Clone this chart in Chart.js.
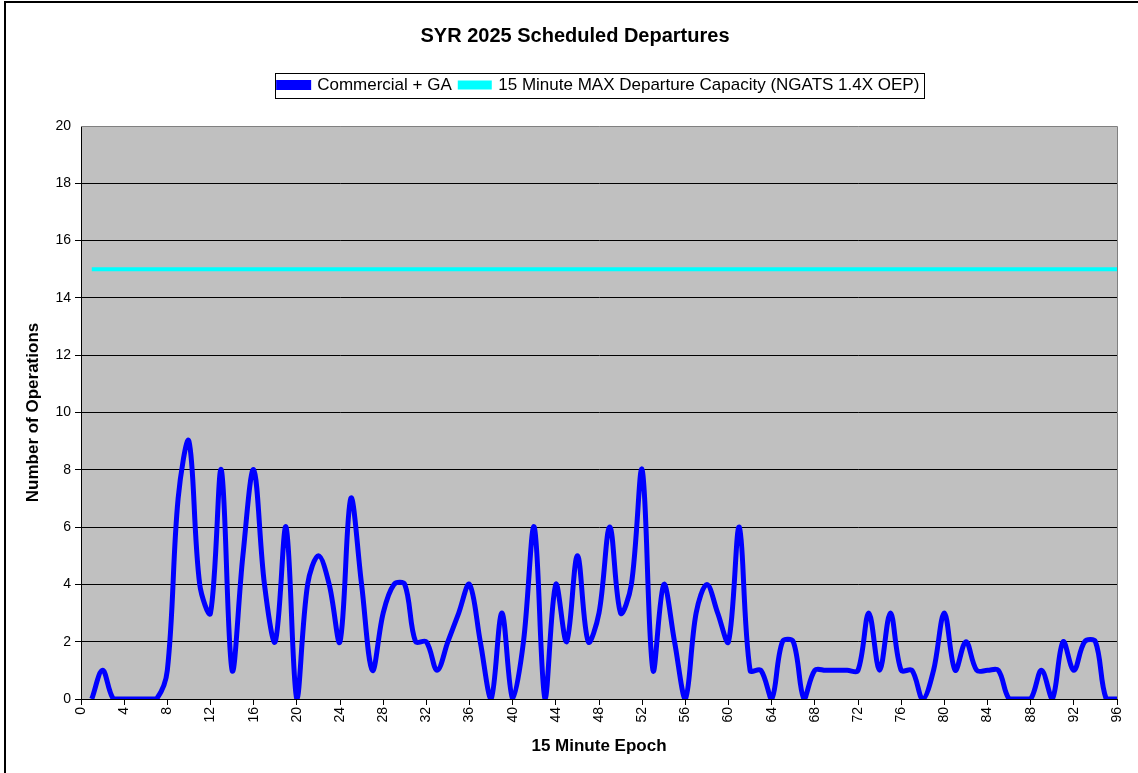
<!DOCTYPE html>
<html>
<head>
<meta charset="utf-8">
<script src="https://cdn.jsdelivr.net/npm/chart.js@4/dist/chart.umd.min.js"></script>
<style>
  html, body { margin: 0; padding: 0; background: #fff; }
  #wrap { width: 1138px; height: 773px; position: relative; }
</style>
</head>
<body>
<div id="wrap"><canvas id="depChart"></canvas></div>
<script>
// 15 minute epochs (x values)
const epochs = [1, 2, 3, 4, 5, 6, 7, 8, 9, 10, 11, 12, 13, 14, 15, 16, 17, 18, 19, 20,
  21, 22, 23, 24, 25, 26, 27, 28, 29, 30, 31, 32, 33, 34, 35, 36, 37, 38, 39, 40,
  41, 42, 43, 44, 45, 46, 47, 48, 49, 50, 51, 52, 53, 54, 55, 56, 57, 58, 59, 60,
  61, 62, 63, 64, 65, 66, 67, 68, 69, 70, 71, 72, 73, 74, 75, 76, 77, 78, 79, 80,
  81, 82, 83, 84, 85, 86, 87, 88, 89, 90, 91, 92, 93, 94, 95, 96];

// Commercial + GA departures per epoch
const departures = [0, 1, 0, 0, 0, 0, 0, 1, 7, 9, 4, 3, 8, 1, 5, 8, 4, 2, 6, 0,
  4, 5, 4, 2, 7, 4, 1, 3, 4, 4, 2, 2, 1, 2, 3, 4, 2, 0, 3, 0,
  2, 6, 0, 4, 2, 5, 2, 3, 6, 3, 4, 8, 1, 4, 2, 0, 3, 4, 3, 2,
  6, 1, 1, 0, 2, 2, 0, 1, 1, 1, 1, 1, 3, 1, 3, 1, 1, 0, 1, 3,
  1, 2, 1, 1, 1, 0, 0, 0, 1, 0, 2, 1, 2, 2, 0, 0];

// 15 minute max departure capacity
const capacity = [15, 15, 15, 15, 15, 15, 15, 15, 15, 15, 15, 15, 15, 15, 15, 15, 15, 15, 15, 15,
  15, 15, 15, 15, 15, 15, 15, 15, 15, 15, 15, 15, 15, 15, 15, 15, 15, 15, 15, 15,
  15, 15, 15, 15, 15, 15, 15, 15, 15, 15, 15, 15, 15, 15, 15, 15, 15, 15, 15, 15,
  15, 15, 15, 15, 15, 15, 15, 15, 15, 15, 15, 15, 15, 15, 15, 15, 15, 15, 15, 15,
  15, 15, 15, 15, 15, 15, 15, 15, 15, 15, 15, 15, 15, 15, 15, 15];

const seriesNames = ['Commercial + GA', '15 Minute MAX Departure Capacity (NGATS 1.4X OEP)'];

function toPoints(values) {
  return epochs.map((e, i) => ({x: e, y: values[i]}));
}

// gray plot area, plot frame, outer frame and legend box
const decorations = {
  id: 'decorations',
  beforeDraw(chart) {
    const {ctx, chartArea: a} = chart;
    ctx.save();
    ctx.fillStyle = '#C0C0C0';
    ctx.fillRect(a.left, a.top, a.right - a.left, a.bottom - a.top);
    ctx.restore();
  },
  afterDraw(chart) {
    const ctx = chart.ctx;
    const a = chart.chartArea;
    ctx.save();
    ctx.strokeStyle = '#808080';
    ctx.lineWidth = 1;
    ctx.beginPath();
    ctx.moveTo(a.left, a.top + 0.5);
    ctx.lineTo(a.right + 0.5, a.top + 0.5);
    ctx.lineTo(a.right + 0.5, a.bottom);
    ctx.stroke();

    ctx.strokeStyle = '#000';
    ctx.lineWidth = 2;
    ctx.strokeRect(5, 2, 1140, 780);

    const boxes = chart.legend.legendHitBoxes;
    if (boxes && boxes.length) {
      const left = Math.min(...boxes.map(b => b.left)) - 4;
      const right = Math.max(...boxes.map(b => b.left + b.width)) + 4;
      const top = Math.min(...boxes.map(b => b.top)) - 4;
      const bottom = Math.max(...boxes.map(b => b.top + b.height)) + 4;
      ctx.lineWidth = 1;
      ctx.strokeRect(Math.round(left) + 0.5, Math.round(top) + 0.5, Math.round(right - left), Math.round(bottom - top));
    }
    ctx.restore();
  }
};

Chart.defaults.font.family = 'Arial, "Liberation Sans", sans-serif';
Chart.defaults.color = '#000';

new Chart(document.getElementById('depChart'), {
  type: 'line',
  data: {
    datasets: [{
      label: seriesNames[0],
      data: toPoints(departures),
      borderColor: '#0000FF',
      backgroundColor: '#0000FF',
      borderWidth: 5,
      pointRadius: 0,
      tension: 0.35,
      fill: false
    }, {
      label: seriesNames[1],
      data: toPoints(capacity),
      borderColor: '#00FFFF',
      backgroundColor: '#00FFFF',
      borderWidth: 4,
      pointRadius: 0,
      tension: 0,
      fill: false
    }]
  },
  options: {
    responsive: true,
    maintainAspectRatio: false,
    animation: false,
    layout: {
      padding: {left: 33, right: 21, top: 0, bottom: 0}
    },
    plugins: {
      title: {
        display: true,
        text: 'SYR 2025 Scheduled Departures',
        font: {size: 20, weight: 'bold'},
        color: '#000',
        padding: {top: 24, bottom: 20.5}
      },
      // empty spacer between legend and plot
      subtitle: {
        display: true,
        text: '',
        weight: 500,
        font: {size: 15, lineHeight: 1.5},
        padding: 0
      },
      legend: {
        display: true,
        fullSize: false,
        labels: {
          boxWidth: 30,
          boxHeight: 5,
          font: {size: 17},
          color: '#000',
          padding: 8
        }
      },
      tooltip: {enabled: false}
    },
    scales: {
      x: {
        type: 'linear',
        min: 0,
        max: 96,
        afterFit(scale) { scale.height = 74; },
        ticks: {
          stepSize: 4,
          autoSkip: false,
          minRotation: 90,
          maxRotation: 90,
          font: {size: 14},
          color: '#000',
          padding: 2
        },
        grid: {
          drawOnChartArea: false,
          drawTicks: true,
          tickLength: 6,
          color: '#000'
        },
        border: {color: '#000', width: 1},
        title: {
          display: true,
          text: '15 Minute Epoch',
          font: {size: 17, weight: 'bold'},
          color: '#000',
          padding: {top: 4, bottom: 16.8}
        }
      },
      y: {
        min: 0,
        max: 20,
        afterFit(scale) { scale.width = 48; },
        ticks: {
          stepSize: 2,
          font: {size: 14},
          color: '#000',
          padding: 4
        },
        grid: {
          drawTicks: true,
          tickLength: 6,
          color: ctx => (ctx.tick && ctx.tick.value === 20) ? 'rgba(0,0,0,0)' : '#000',
          lineWidth: 1
        },
        border: {color: '#000', width: 1},
        title: {
          display: true,
          text: 'Number of Operations',
          font: {size: 17, weight: 'bold'},
          color: '#000',
          padding: {top: -10.2, bottom: 0}
        }
      }
    }
  },
  plugins: [decorations]
});
</script>
</body>
</html>
